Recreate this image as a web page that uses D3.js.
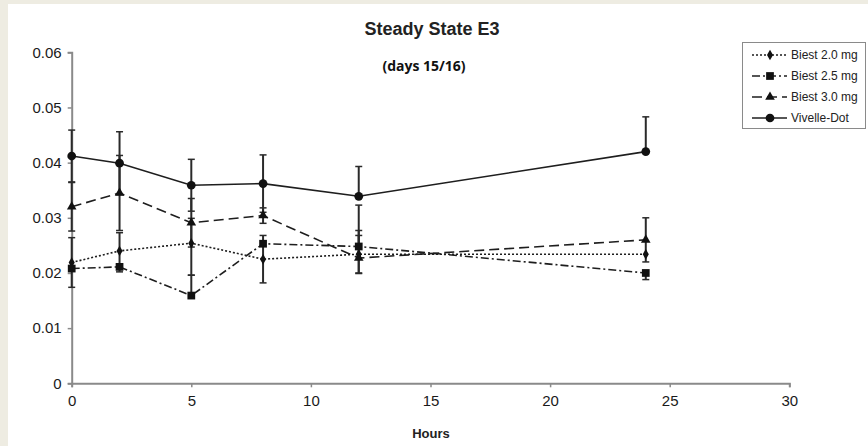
<!DOCTYPE html>
<html>
<head>
<meta charset="utf-8">
<script src="https://cdn.jsdelivr.net/npm/d3@7"></script>
<style>
  html, body { margin: 0; padding: 0; background: #eeece2; }
  svg { display: block; }
</style>
</head>
<body>
<svg id="chart" width="868" height="446"></svg>
<script>
const svg = d3.select("#chart");
const width = 868;
const height = 446;

// data
const hours = [0, 2, 5, 8, 12, 24];
const seriesNames = ["Biest 2.0 mg", "Biest 2.5 mg", "Biest 3.0 mg", "Vivelle-Dot"];

const biest20 = [0.0219, 0.0240, 0.0254, 0.0225, 0.0234, 0.0234];
const biest20Up = [0.0045, 0.0033, 0.0045, 0.0043, 0.0034, 0.0005];
const biest20Down = [0.0045, 0.0033, 0.0058, 0.0043, 0.0034, 0.0005];

const biest25 = [0.0208, 0.0211, 0.0159, 0.0253, 0.0248, 0.0200];
const biest25Up = [0.0005, 0.0005, 0.0037, 0.0005, 0.0075, 0.0005];
const biest25Down = [0.0005, 0.0009, 0.0, 0.0005, 0.0005, 0.0012];

const biest30 = [0.0320, 0.0345, 0.0291, 0.0304, 0.0227, 0.0260];
const biest30Up = [0.0044, 0.0068, 0.0044, 0.0014, 0.0050, 0.0040];
const biest30Down = [0.0044, 0.0068, 0.0044, 0.0014, 0.0028, 0.0040];

const vivelle = [0.0412, 0.0399, 0.0359, 0.0362, 0.0339, 0.0420];
const vivelleUp = [0.0047, 0.0057, 0.0047, 0.0052, 0.0054, 0.0063];
const vivelleDown = [0.0047, 0.0057, 0.0047, 0.0052, 0.0, 0.0];

const xTicks = [0, 5, 10, 15, 20, 25, 30];
const yTicks = [0, 0.01, 0.02, 0.03, 0.04, 0.05, 0.06];

const series = [
    { name: seriesNames[0], values: biest20, up: biest20Up, down: biest20Down, dash: "2,2", marker: "diamond" },
    { name: seriesNames[1], values: biest25, up: biest25Up, down: biest25Down, dash: "8,3,2,3", marker: "square" },
    { name: seriesNames[2], values: biest30, up: biest30Up, down: biest30Down, dash: "10,5", marker: "triangle" },
    { name: seriesNames[3], values: vivelle, up: vivelleUp, down: vivelleDown, dash: null, marker: "circle" }
];

const ink = "#1e1e1e";

// white panel
svg.append("rect")
    .attr("x", 8)
    .attr("y", 4)
    .attr("width", width - 8)
    .attr("height", height - 4)
    .attr("fill", "white");

const x = d3.scaleLinear().domain([0, 30]).range([71.7, 789.3]);
const y = d3.scaleLinear().domain([0, 0.06]).range([383.3, 52.3]);

// axes
const xAxis = svg.append("g")
    .attr("transform", `translate(0,${y(0)})`)
    .call(d3.axisBottom(x).tickValues(xTicks).tickFormat(d3.format("d")).tickSizeOuter(0).tickSize(4));

const yAxis = svg.append("g")
    .attr("transform", `translate(${x(0)},0)`)
    .call(d3.axisLeft(y).tickValues(yTicks).tickFormat(d => d === 0 ? "0" : d3.format(".2f")(d)).tickSizeOuter(0).tickSize(4));

[xAxis, yAxis].forEach(g => {
    g.select(".domain").attr("stroke", "#8a8a8a").attr("stroke-width", 2);
    g.selectAll(".tick line").attr("stroke", "#8a8a8a").attr("stroke-width", 1.5);
    g.selectAll(".tick text")
        .attr("fill", "#1a1a1a")
        .attr("font-family", "Liberation Sans, Arial, sans-serif")
        .attr("font-size", "15px");
});
xAxis.selectAll(".tick text").attr("dy", "0.71em").attr("y", 12);
yAxis.selectAll(".tick text").attr("x", -10);

// error bars
series.forEach(s => {
    const g = svg.append("g");
    s.values.forEach((v, i) => {
        const cx = x(hours[i]);
        const top = y(v + s.up[i]);
        const bot = y(v - s.down[i]);
        g.append("line")
            .attr("x1", cx).attr("x2", cx)
            .attr("y1", top).attr("y2", bot)
            .attr("stroke", "#2a2a2a")
            .attr("stroke-width", 2);
        if (s.up[i] > 0.0008) {
            g.append("line")
                .attr("x1", cx - 3.5).attr("x2", cx + 3.5)
                .attr("y1", top).attr("y2", top)
                .attr("stroke", "#2a2a2a").attr("stroke-width", 1.5);
        }
        if (s.down[i] > 0.0008) {
            g.append("line")
                .attr("x1", cx - 3.5).attr("x2", cx + 3.5)
                .attr("y1", bot).attr("y2", bot)
                .attr("stroke", "#2a2a2a").attr("stroke-width", 1.5);
        }
    });
});

const symbols = {
    diamond: d3.symbol().type(d3.symbolDiamond).size(32),
    square: d3.symbol().type(d3.symbolSquare).size(60),
    triangle: d3.symbol().type(d3.symbolTriangle).size(40),
    circle: d3.symbol().type(d3.symbolCircle).size(60)
};

const line = d3.line()
    .x((d, i) => x(hours[i]))
    .y(d => y(d));

// lines and markers
series.forEach(s => {
    svg.append("path")
        .attr("d", line(s.values))
        .attr("fill", "none")
        .attr("stroke", ink)
        .attr("stroke-width", 1.6)
        .attr("stroke-dasharray", s.dash);

    svg.selectAll(null)
        .data(s.values)
        .enter()
        .append("path")
        .attr("d", symbols[s.marker])
        .attr("transform", (d, i) => `translate(${x(hours[i])},${y(d)})`)
        .attr("fill", "#111");
});

// titles
svg.append("text")
    .attr("x", 432)
    .attr("y", 35)
    .attr("text-anchor", "middle")
    .attr("font-family", "Liberation Sans, Arial, sans-serif")
    .attr("font-weight", "bold")
    .attr("font-size", "18px")
    .attr("fill", "#222")
    .text("Steady State E3");

svg.append("text")
    .attr("x", 424)
    .attr("y", 71)
    .attr("text-anchor", "middle")
    .attr("font-family", "Open Sans, sans-serif")
    .attr("font-weight", "bold")
    .attr("font-size", "14px")
    .attr("fill", "#111")
    .text("(days 15/16)");

svg.append("text")
    .attr("x", 431)
    .attr("y", 438)
    .attr("text-anchor", "middle")
    .attr("font-family", "Liberation Sans, Arial, sans-serif")
    .attr("font-weight", "bold")
    .attr("font-size", "13px")
    .attr("fill", "#222")
    .text("Hours");

// legend
const legend = svg.append("g");
legend.append("rect")
    .attr("x", 742.5)
    .attr("y", 42.5)
    .attr("width", 123)
    .attr("height", 86)
    .attr("fill", "white")
    .attr("stroke", "#8a8a8a")
    .attr("stroke-width", 1);

series.forEach((s, i) => {
    const ly = 55 + i * 21;
    legend.append("line")
        .attr("x1", 752).attr("x2", 787)
        .attr("y1", ly).attr("y2", ly)
        .attr("stroke", ink)
        .attr("stroke-width", 1.4)
        .attr("stroke-dasharray", s.dash);
    legend.append("path")
        .attr("d", symbols[s.marker])
        .attr("transform", `translate(770,${ly})`)
        .attr("fill", "#111");
    legend.append("text")
        .attr("x", 791)
        .attr("y", ly + 4)
        .attr("font-family", "Liberation Sans, Arial, sans-serif")
        .attr("font-size", "12px")
        .attr("fill", "#222")
        .text(s.name);
});
</script>
</body>
</html>
